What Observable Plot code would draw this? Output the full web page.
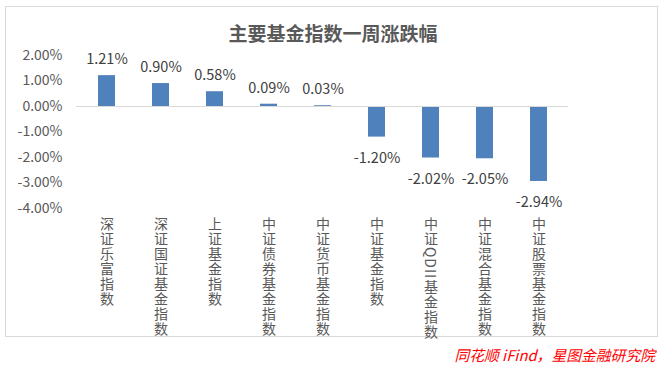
<!DOCTYPE html>
<html><head><meta charset="utf-8">
<script src="https://cdn.jsdelivr.net/npm/d3@7"></script>
<script src="https://cdn.jsdelivr.net/npm/@observablehq/plot@0.6"></script>
<style>
body{margin:0;background:#fff;width:666px;height:368px;overflow:hidden;position:relative;font-family:"Noto Sans CJK SC","Noto Sans",sans-serif;}
#frame{position:absolute;left:5px;top:6px;width:653px;height:331px;border:1px solid #d9d9d9;box-sizing:border-box;}
#title{position:absolute;left:0;width:666px;top:23px;line-height:20px;text-align:center;font-weight:bold;font-size:19px;color:#595959;}
#chart{position:absolute;left:0;top:0;}
#caption{position:absolute;right:11px;top:347px;line-height:16px;color:#ff0000;font-style:italic;font-size:14.8px;}
</style>
</head><body>
<div id="frame"></div>
<div id="chart"></div>
<div id="title">主要基金指数一周涨跌幅</div>
<div id="caption">同花顺 iFind，星图金融研究院</div>
<script>
const categories = ["深证乐富指数","深证国证基金指数","上证基金指数","中证债券基金指数","中证货币基金指数","中证基金指数","中证QDII基金指数","中证混合基金指数","中证股票基金指数"];
const values = [1.21, 0.90, 0.58, 0.09, 0.03, -1.20, -2.02, -2.05, -2.94];
const yTicks = [2, 1, 0, -1, -2, -3, -4];

const data = categories.map((c, i) => ({cat: c, v: values[i]}));
const fmt = d => d.toFixed(2) + "%";

const chart = Plot.plot({
  width: 666,
  height: 340,
  marginLeft: 76,
  marginRight: 98,
  marginTop: 55,
  marginBottom: 132,
  style: {fontFamily: '"Noto Sans CJK SC","Noto Sans",sans-serif', fontSize: "14px", color: "#595959", background: "transparent"},
  x: {domain: categories, paddingInner: 0.69, paddingOuter: 0.345, axis: null},
  y: {domain: [-4, 2], ticks: yTicks, tickFormat: fmt, tickSize: 0, tickPadding: 14, label: null},
  marks: [
    Plot.barY(data, {x: "cat", y: "v", fill: "#4f81bd"}),
    Plot.ruleY([0], {stroke: "#d9d9d9", strokeWidth: 1}),
    Plot.text(data.filter(d => d.v >= 0), {x: "cat", y: "v", text: d => fmt(d.v), dy: -16, fill: "#404040", fontSize: 14.5}),
    Plot.text(data.filter(d => d.v < 0), {x: "cat", y: "v", text: d => fmt(d.v), dy: 21, fill: "#404040", fontSize: 14.5}),
    Plot.text(categories, {x: d => d, y: () => -4, text: d => d, dy: 4, textAnchor: "start", fill: "#595959", fontSize: 14, ariaDescription: "catlabels"})
  ]
});
document.getElementById("chart").appendChild(chart);
d3.select(chart).selectAll('g[aria-description="catlabels"] text')
  .attr("writing-mode", "vertical-rl")
  .style("writing-mode", "vertical-rl")
  .style("letter-spacing", "1px");
</script>
</body></html>
